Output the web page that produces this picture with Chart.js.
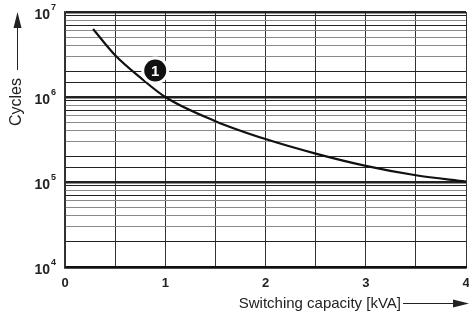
<!DOCTYPE html>
<html>
<head>
<meta charset="utf-8">
<script src="https://cdn.jsdelivr.net/npm/chart.js@4.4.1/dist/chart.umd.min.js"></script>
<style>
  html, body { margin: 0; padding: 0; background: #fff; }
  #wrap { width: 469px; height: 311px; }
</style>
</head>
<body>
<div id="wrap"><canvas id="myChart"></canvas></div>
<script>
// switching capacity (kVA) vs. cycles
const capacity = [0.28, 0.5, 0.75, 1.0, 1.5, 2.0, 2.5, 3.0, 3.5, 4.0];
const cycles = [6.3e6, 3.1e6, 1.7e6, 1.0e6, 5.2e5, 3.2e5, 2.16e5, 1.55e5, 1.2e5, 1.01e5];
const xTicks = [0, 1, 2, 3, 4];
const yTicks = [1e4, 1e5, 1e6, 1e7];
const callout = { x: 0.9, y: 2.05e6, label: '1' };

const FONT = '"Liberation Sans", Arial, sans-serif';

function isDecade(v) {
    return yTicks.some(t => Math.abs(v - t) / t < 1e-6);
}
function significand(v) {
    return Math.round(v / Math.pow(10, Math.floor(Math.log10(v) + 1e-9)));
}

// exponents, axis titles with arrows, numbered callout
const decorations = {
    id: 'decorations',
    afterDraw(chart) {
        const ctx = chart.ctx;
        const xs = chart.scales.x, ys = chart.scales.y;
        ctx.save();

        // exponents of the y tick labels
        ctx.fillStyle = '#222';
        ctx.font = 'bold 9px ' + FONT;
        ctx.textAlign = 'left'; ctx.textBaseline = 'middle';
        yTicks.forEach(t => {
            const py = ys.getPixelForValue(t);
            ctx.fillText(String(Math.round(Math.log10(t))), 51, py - 4);
        });

        // callout "1"
        const cx = xs.getPixelForValue(callout.x), cy = ys.getPixelForValue(callout.y);
        ctx.fillStyle = '#fff';
        ctx.beginPath(); ctx.arc(cx, cy, 14, 0, Math.PI * 2); ctx.fill();
        ctx.fillStyle = '#111';
        ctx.beginPath(); ctx.arc(cx, cy, 11, 0, Math.PI * 2); ctx.fill();
        ctx.fillStyle = '#fff';
        ctx.font = 'bold 15px ' + FONT;
        ctx.textAlign = 'center'; ctx.textBaseline = 'middle';
        ctx.fillText(callout.label, cx, cy + 1);

        ctx.fillStyle = '#222';
        ctx.strokeStyle = '#222';
        ctx.lineWidth = 1;

        // x title
        ctx.font = '15px ' + FONT;
        ctx.textAlign = 'right'; ctx.textBaseline = 'middle';
        ctx.fillText('Switching capacity [kVA]', 401, 304);
        ctx.beginPath(); ctx.moveTo(403, 303.5); ctx.lineTo(455, 303.5); ctx.stroke();
        ctx.beginPath(); ctx.moveTo(469, 303.5); ctx.lineTo(453, 299.5); ctx.lineTo(453, 307.5); ctx.closePath(); ctx.fill();

        // y title
        ctx.save();
        ctx.font = '16px ' + FONT;
        ctx.translate(17, 102);
        ctx.rotate(-Math.PI / 2);
        ctx.textAlign = 'center'; ctx.textBaseline = 'middle';
        ctx.fillText('Cycles', 0, 0);
        ctx.restore();
        ctx.beginPath(); ctx.moveTo(17.5, 70); ctx.lineTo(17.5, 27); ctx.stroke();
        ctx.beginPath(); ctx.moveTo(17.5, 12); ctx.lineTo(13.5, 28); ctx.lineTo(21.5, 28); ctx.closePath(); ctx.fill();

        ctx.restore();
    }
};

new Chart(document.getElementById('myChart'), {
    type: 'line',
    data: {
        datasets: [{
            data: capacity.map((c, i) => ({ x: c, y: cycles[i] })),
            borderColor: '#111',
            borderWidth: 2.2,
            pointRadius: 0,
            cubicInterpolationMode: 'monotone',
            fill: false
        }]
    },
    options: {
        responsive: true,
        maintainAspectRatio: false,
        animation: false,
        layout: { padding: { top: 12, right: 3, left: 0, bottom: 0 } },
        plugins: { legend: { display: false }, tooltip: { enabled: false } },
        scales: {
            x: {
                type: 'linear',
                min: 0,
                max: 4,
                afterFit: s => { s.height = 44; s.paddingLeft = 0; s.paddingRight = 0; },
                border: { color: '#111', width: 2.5 },
                grid: {
                    drawTicks: false,
                    color: '#333',
                    lineWidth: 1
                },
                ticks: {
                    stepSize: 0.5,
                    autoSkip: false,
                    maxRotation: 0,
                    padding: 9,
                    color: '#222',
                    font: { family: FONT, size: 13, weight: 'bold' },
                    callback: v => (xTicks.includes(v) ? String(v) : '')
                }
            },
            y: {
                type: 'logarithmic',
                min: 1e4,
                max: 1e7,
                afterFit: s => { s.width = 65; s.paddingTop = 0; s.paddingBottom = 0; },
                border: { color: '#333', width: 1.5 },
                grid: {
                    drawTicks: false,
                    color: ctx => {
                        const v = ctx.tick.value;
                        if (isDecade(v)) return '#222';
                        const k = significand(v);
                        return (k === 2 || k === 7 || k === 9) ? '#222' : '#8a8a8a';
                    },
                    lineWidth: ctx => (isDecade(ctx.tick.value) ? 2.5 : 1)
                },
                ticks: {
                    autoSkip: false,
                    padding: 15,
                    labelOffset: 3,
                    color: '#222',
                    font: { family: FONT, size: 14, weight: 'bold' },
                    callback: v => (isDecade(v) ? '10' : '')
                }
            }
        }
    },
    plugins: [decorations]
});
</script>
</body>
</html>
